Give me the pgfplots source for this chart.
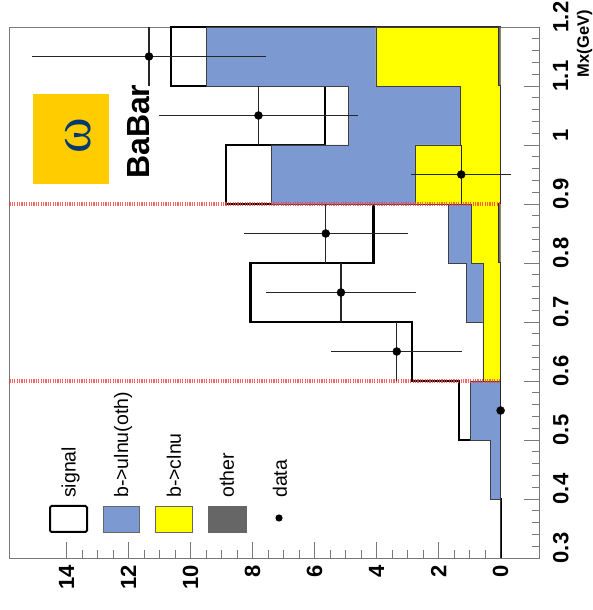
\documentclass[border=0pt]{standalone}
\usepackage{fontspec}
\setmainfont{Liberation Sans}
\newfontfamily\greekfont{Liberation Serif}
\usepackage{pgfplots}
\pgfplotsset{compat=1.18}

\definecolor{ulnu}{RGB}{125,153,209}
\definecolor{clnu}{RGB}{255,255,0}
\definecolor{oth}{RGB}{102,102,102}
\definecolor{logo}{RGB}{255,204,0}
\definecolor{omegablue}{RGB}{0,58,112}
\definecolor{cutred}{RGB}{255,60,60}
\definecolor{framegray}{RGB}{120,120,120}

\begin{document}
\begin{tikzpicture}[x=1pt,y=1pt]
\path[use as bounding box] (0,0) rectangle (593,610);
\begin{axis}[
  at={(9.5pt,52pt)}, anchor=south west,
  scale only axis, width=530.2pt, height=531pt,
  x dir=reverse,
  xmin=-1.26, xmax=15.84, ymin=0.3, ymax=1.2,
  axis line style={framegray, line width=0.9pt},
  xtick={0,2,4,6,8,10,12,14}, minor x tick num=3,
  ytick={0.3,0.4,0.5,0.6,0.7,0.8,0.9,1,1.1,1.2}, minor y tick num=4,
  xtick pos=left, ytick pos=right,
  xticklabel pos=left, yticklabel pos=right,
  tick align=inside,
  major tick length=16pt, minor tick length=8pt,
  every tick/.style={framegray, line width=0.9pt},
  /pgf/number format/assume math mode=true,
  xticklabel style={font=\fontsize{22}{22}\selectfont\bfseries, rotate=90, anchor=east, inner sep=0pt},
  xticklabel shift=7pt,
  yticklabel style={font=\fontsize{22}{22}\selectfont\bfseries, yshift=10pt, rotate=90, anchor=north, inner sep=0pt},
  yticklabel shift=13pt,
]
% signal on top of the full background stack (outline = total)
\addplot[fill=white, draw=black, line width=2.2pt] coordinates {
  (0,0.3) (0,0.4) (0.32,0.4) (0.32,0.5) (1.34,0.5) (1.34,0.6)
  (2.87,0.6) (2.87,0.7) (8.07,0.7) (8.07,0.8) (4.10,0.8) (4.10,0.9)
  (8.85,0.9) (8.85,1.0) (5.66,1.0) (5.66,1.1) (10.64,1.1) (10.64,1.2) (0,1.2)};
% b->ulnu(oth), cumulative
\addplot[fill=ulnu, draw=black!75, line width=0.8pt] coordinates {
  (0,0.3) (0,0.4) (0.32,0.4) (0.32,0.5) (0.96,0.5) (0.96,0.6)
  (0.57,0.6) (0.57,0.7) (1.09,0.7) (1.09,0.8) (1.68,0.8) (1.68,0.9)
  (7.40,0.9) (7.40,1.0) (4.91,1.0) (4.91,1.1) (9.48,1.1) (9.48,1.2) (0,1.2)};
% b->clnu, cumulative
\addplot[fill=clnu, draw=black!75, line width=0.8pt] coordinates {
  (0,0.3) (0,0.4) (0,0.4) (0,0.5) (0,0.5) (0,0.6)
  (0.57,0.6) (0.57,0.7) (0.57,0.7) (0.57,0.8) (0.95,0.8) (0.95,0.9)
  (2.76,0.9) (2.76,1.0) (1.31,1.0) (1.31,1.1) (4.02,1.1) (4.02,1.2) (0,1.2)};
% other
\addplot[fill=oth, draw=black!80, line width=1pt] coordinates {
  (0,0.3) (0,0.4) (0,0.4) (0,0.5) (0,0.5) (0,0.6)
  (0,0.6) (0,0.7) (0,0.7) (0,0.8) (0.07,0.8) (0.07,0.9)
  (0,0.9) (0,1.0) (0,1.0) (0,1.1) (0.08,1.1) (0.08,1.2) (0,1.2)};
% signal-region cuts
\addplot[cutred, line width=3.2pt, dash pattern=on 1.2pt off 1.2pt, opacity=0.8]
  coordinates {(15.84,0.6) (0,0.6)};
\addplot[cutred, line width=3.2pt, dash pattern=on 1.2pt off 1.2pt, opacity=0.8]
  coordinates {(15.84,0.9) (0,0.9)};
% data
\addplot[only marks, mark=*, mark size=4pt, black,
  error bars/.cd, x dir=both, x explicit, y dir=both, y explicit,
  error bar style={line width=1.2pt, black!85}, error mark=none]
  coordinates {
  (0,0.55)     +- (0,0.05)
  (3.35,0.65)  +- (2.12,0.05)
  (5.15,0.75)  +- (2.43,0.05)
  (5.64,0.85)  +- (2.65,0.05)
  (1.27,0.95)  +- (1.62,0.05)
  (7.81,1.05)  +- (3.20,0.05)
  (11.34,1.15) +- (3.77,0.05)
  };
\end{axis}

% axis title
\node[rotate=90, anchor=east, inner sep=0pt, font=\fontsize{16.5}{16.5}\selectfont\bfseries]
  at (584.5,600) {Mx(GeV)};

% omega logo and experiment label
\fill[logo] (32.7,425.7) rectangle (109,516);
\node[rotate=90, text=omegablue, inner sep=0pt, font=\greekfont\fontsize{54}{54}\selectfont]
  at (78.3,474) {ω};
\node[rotate=90, inner sep=0pt, font=\bfseries\fontsize{32}{32}\selectfont]
  at (138.3,478.3) {BaBar};

% legend
\draw[black, line width=2pt, fill=white, rounded corners=1.5pt] (50,78) rectangle (87,104);
\filldraw[fill=ulnu, draw=black!60, line width=0.6pt] (103,78) rectangle (139,104);
\filldraw[fill=clnu, draw=black!60, line width=0.6pt] (155,78) rectangle (192,104);
\filldraw[fill=oth, draw=black!60, line width=0.6pt] (208,78) rectangle (246,104);
\fill[black] (279,92) circle (3.6);
\begin{scope}[every node/.style={rotate=90, anchor=west, inner sep=0pt,
    font=\fontsize{19.5}{19.5}\selectfont}]
  \node at (70.5,112) {signal};
  \node at (123,112) {b->ulnu(oth)};
  \node at (174,112) {b->clnu};
  \node at (227,112) {other};
  \node at (280,112) {data};
\end{scope}
\end{tikzpicture}
\end{document}
